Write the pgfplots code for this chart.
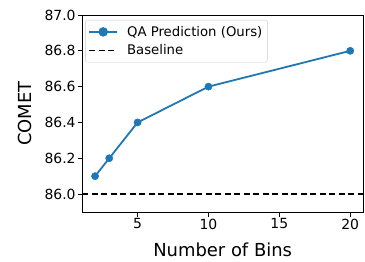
\documentclass[border=0pt]{standalone}
\usepackage{fontspec}
\setmainfont{DejaVu Sans}
\usepackage{pgfplots}
\pgfplotsset{compat=1.18}
\definecolor{tabblue}{HTML}{1F77B4}
\begin{document}
\begin{tikzpicture}[x=1bp,y=1bp]
\useasboundingbox (0,0) rectangle (365,262);
\begin{axis}[
  at={(82.3bp,50bp)}, anchor=south west,
  scale only axis, width=280.7bp, height=197bp,
  xmin=1.1, xmax=20.9, ymin=85.9, ymax=87.0,
  xtick={5,10,15,20},
  ytick={86.0,86.2,86.4,86.6,86.8,87.0},
  xticklabel style={inner sep=2bp},
  yticklabel style={inner sep=2bp, /pgf/number format/.cd,fixed,fixed zerofill,precision=1},
  /pgf/number format/assume math mode=true,
  tick align=outside, tick pos=left,
  major tick length=4.5bp,
  every tick/.style={black, line width=0.8bp},
  axis line style={line width=0.8bp},
  ticklabel style={font=\fontsize{14}{16}\selectfont},
  xlabel={Number of Bins}, ylabel={COMET},
  label style={font=\fontsize{18}{20}\selectfont},
  xlabel style={at={(axis description cs:0.5,0)}, anchor=base, yshift=-44bp},
  ylabel style={at={(axis description cs:-0.204,0.5)}, anchor=center},
  legend style={font=\fontsize{13.3}{15}\selectfont, draw=black!20, rounded corners=2bp, at={(0.010,0.975)}, anchor=north west, inner xsep=3bp, inner ysep=4bp, row sep=3bp, cells={anchor=west}, /tikz/every odd column/.append style={column sep=7bp}},
  legend cell align=left,
  legend image code/.code={\draw[#1] (0bp,0bp) -- (28bp,0bp);},
]
\addplot[color=tabblue, line width=1.8bp, mark=*, mark size=3.6bp, mark options={solid, fill=tabblue, draw=tabblue, line width=0.5bp}, legend image code/.code={\draw[color=tabblue, line width=1.8bp] (0bp,0bp) -- (28bp,0bp); \fill[tabblue] (14bp,0bp) circle (3.8bp);}] coordinates {(2,86.1) (3,86.2) (5,86.4) (10,86.6) (20,86.8)};
\addlegendentry{QA Prediction (Ours)}
\addplot[black, line width=1.8bp, dash pattern=on 6bp off 3.5bp] coordinates {(1.1,86.0) (20.9,86.0)};
\addlegendentry{Baseline}
\end{axis}
\end{tikzpicture}
\end{document}
